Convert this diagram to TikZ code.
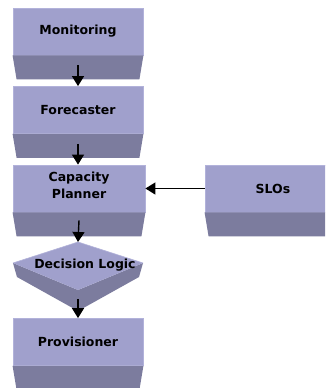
\documentclass[tikz,border=0pt]{standalone}
\usepackage{fontspec}
\setmainfont{DejaVu Sans}
\usetikzlibrary{arrows.meta}
\definecolor{facec}{HTML}{A0A0CC}
\definecolor{sidec}{HTML}{7C7C9E}
\definecolor{edgec}{HTML}{B2B2DA}
\tikzset{
  face/.style={fill=facec, draw=edgec, line width=0.8pt, minimum width=130pt, minimum height=47pt, inner sep=0pt, align=center, font=\bfseries\fontsize{12.5}{17}\selectfont},
  sidefill/.style={fill=sidec},
  arr/.style={draw=black, line width=1.4pt, -{Triangle[width=12pt,length=10pt]}},
  lbl/.style={font=\bfseries\fontsize{12.5}{17}\selectfont, inner sep=0pt}
}
\newcommand{\sidetrap}[1]{\fill[sidefill] (#1.south west) -- (#1.south east) -- ([shift={(-4pt,-24pt)}]#1.south east) -- ([shift={(4pt,-24pt)}]#1.south west) -- cycle;}
\begin{document}
\begin{tikzpicture}[x=1pt,y=-1pt]
\clip (0,0) rectangle (325,388);
\fill[white] (0,0) rectangle (325,388);
% faces
\node[face] (mon) at (78,31.5) {Monitoring};
\node[face] (fore) at (78,110) {Forecaster};
\node[face, minimum width=132pt] (cap) at (79,188.5) {Capacity\\Planner\rule[-6pt]{0pt}{0pt}};
\node[face, minimum width=136pt] (slo) at (273,188.5) {SLOs};
\node[face] (prov) at (78,342) {Provisioner};
\sidetrap{mon}
\sidetrap{fore}
\sidetrap{cap}
\sidetrap{slo}
\sidetrap{prov}
% decision diamond
\coordinate (dectop) at (78,242);
\coordinate (decbot) at (78,290);
\fill[sidec] (13,263) -- (17,277) -- (78,311) -- (139,277) -- (143,263) -- (decbot) -- cycle;
\fill[facec] (dectop) -- (143,263) -- (decbot) -- (13,263) -- cycle;
\draw[edgec, line width=0.6pt] (13,263) -- (dectop) -- (143,263);
\node[lbl] (dec) at (85,265) {Decision Logic};
% arrows
\draw[arr] ([yshift=-10pt]mon.south) -- (fore.north);
\draw[arr] ([yshift=-10pt]fore.south) -- ([xshift=-1pt]cap.north);
\draw[arr] ([yshift=-8pt]cap.south) -- (dectop);
\draw[arr] ([yshift=-9pt]decbot) -- (prov.north);
\draw[arr] (slo.west) -- (cap.east);
\end{tikzpicture}
\end{document}
